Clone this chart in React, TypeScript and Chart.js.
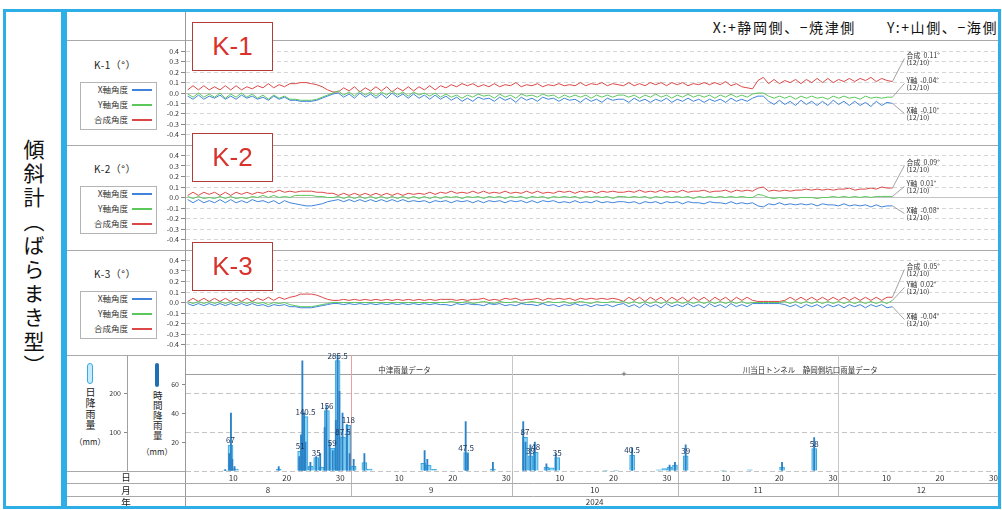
import React, { useEffect, useRef } from "react";
import { Chart, registerables } from "chart.js";

Chart.register(...registerables);

// ---------------- calendar / axis ----------------
const YEAR_LABEL = "2024";
const MONTHS = [8, 9, 10, 11, 12];
const MONTH_LABELS = ["8", "9", "10", "11", "12"];
const MONTH_START_DAY = [0, 31, 61, 92, 122, 153];
const X_MAX_DAY = 151.5;
const DAY_TICK_DATES = ["08/10", "08/20", "08/30", "09/10", "09/20", "09/30", "10/10", "10/20", "10/30", "11/10", "11/20", "11/30", "12/10", "12/20", "12/30"];
const ROW_LABELS = ["日", "月", "年"];

// ---------------- tilt meters (1/100 degree), daily 08/01 .. 12/10 ----------------
const K1_X = [
  -3, -6, -2, -6, -3, -5, -2, -6, -3, -6, -2, -5, -3, -6, -4, -7, -3, -6, -4, -7,
  -7, -8, -8, -8, -7, -5, -3, -1,
  0, -4, -1, -5, 0, -4, -1, -5, -1, -5, 0, -4, -1, -5, -1, -5, -2, -6, -2, -6,
  -3, -7, -4, -8, -5, -8, -4, -6, -5, -8, -4, -7, -5, -9, -4, -7, -5, -8, -4, -6, -5, -8, -5, -7, -6, -9, -5, -8, -6, -9, -5, -7, -6,
  -6, -9, -5, -8, -6, -9, -6, -8, -5, -9, -6, -8, -5, -8, -6, -9, -6, -8, -6, -9, -5, -8, -6, -8, -5,
  -3, -3, -8, -11, -7, -11, -8, -12, -7, -11, -8, -12, -8, -12, -7, -11, -8, -12, -8, -12, -9, -13, -8, -12, -9, -10,
];
const K1_Y = [
  -1, -4, 0, -4, -1, -4, 0, -5, -1, -4, 0, -4, -1, -5, -2, -6, -2, -5, -3, -6,
  -6, -7, -7, -7, -6, -4, -2, 0,
  2, -2, 1, -3, 2, -2, 1, -3, 1, -2, 2, -2, 1, -3, 1, -2, 0, -3, 0, -4,
  -1, -4, -2, -5, -2, -4, -1, -3, -2, -5, -1, -4, -2, -5, -1, -3, -2, -4, -1, -3, -2, -5, -2, -4, -2, -4, -2, -5, -2, -4, -2, -4, -2,
  -2, -4, -2, -5, -2, -4, -1, -4, -2, -5, -2, -4, -1, -4, -2, -4, -2, -5, -2, -4, -1, -4, -2, -4, -1,
  0, 0, -3, -5, -3, -5, -3, -6, -3, -5, -3, -5, -4, -6, -3, -5, -3, -5, -4, -6, -3, -5, -4, -5, -4, -4,
];
const K1_R = [
  3, 7, 3, 7, 3, 6, 3, 7, 3, 7, 3, 6, 4, 7, 5, 9, 5, 8, 6, 9,
  9, 10, 10, 9, 8, 6, 3, 1,
  1, 5, 2, 6, 1, 5, 2, 6, 2, 6, 1, 5, 2, 6, 2, 6, 3, 7, 3, 7,
  5, 8, 6, 9, 7, 9, 6, 8, 6, 9, 6, 8, 7, 10, 6, 8, 7, 9, 6, 8, 7, 9, 7, 8, 7, 10, 7, 9, 8, 10, 7, 9, 8,
  7, 10, 7, 9, 7, 10, 8, 10, 7, 10, 8, 10, 7, 9, 8, 10, 8, 10, 8, 11, 7, 9, 6, 5, 4,
  12, 15, 9, 13, 9, 12, 10, 13, 9, 13, 10, 14, 10, 14, 10, 13, 11, 14, 11, 14, 12, 15, 11, 14, 12, 11,
];

const K2_X = [
  -2, -5, -2, -5, -3, -5, -2, -5, -2, -5, -3, -5, -2, -4, -3, -5, -3, -6, -3, -5,
  -6, -7, -8, -8, -7, -6, -4, -3,
  -2, -4, -2, -4, -2, -4, -2, -4, -2, -4, -2, -4, -2, -4, -3, -4, -3, -5, -3, -4,
  -3, -5, -3, -4, -3, -5, -3, -5, -3, -4, -3, -5, -3, -4, -3, -5, -3, -5, -3, -4, -3, -5, -4, -5, -3, -5, -4, -5, -3, -5, -4, -5, -4,
  -4, -5, -4, -6, -4, -5, -4, -6, -4, -5, -4, -6, -4, -5, -5, -6, -4, -5, -5, -6, -4, -6, -5, -6, -5,
  -8, -9, -6, -7, -5, -7, -6, -7, -6, -7, -6, -8, -6, -7, -7, -8, -6, -8, -7, -8, -7, -9, -7, -9, -8, -8,
];
const K2_Y = [
  1, -1, 1, -1, 0, -1, 1, -1, 1, -1, 0, -1, 1, 0, 2, 0, 2, 0, 1, 0,
  2, 2, 2, 2, 1, 1, 0, 0,
  1, -1, 1, -1, 1, -1, 1, -1, 1, -1, 1, -1, 1, -1, 1, -1, 1, -1, 1, -1,
  1, 0, 1, -1, 1, 0, 1, -1, 1, 0, 1, -1, 1, 0, 1, -1, 1, 0, 1, -1, 1, 0, 1, 0, 1, -1, 1, 0, 1, 0, 1, -1, 1,
  1, 0, 1, 0, 1, -1, 1, 0, 1, 0, 1, 0, 1, -1, 1, 0, 1, 0, 1, 0, 1, 0, 1, 0, 0,
  3, 2, 0, -1, 0, -1, 0, -1, 0, 0, 0, -1, 0, 0, 1, 0, 1, 0, 1, 0, 1, 0, 1, 1, 1, 1,
];
const K2_R = [
  2, 5, 2, 5, 3, 5, 2, 5, 2, 5, 3, 5, 3, 5, 4, 6, 5, 7, 5, 6,
  5, 6, 6, 6, 5, 5, 4, 4,
  2, 4, 2, 4, 2, 4, 2, 4, 2, 4, 2, 4, 2, 4, 3, 4, 3, 5, 3, 5,
  4, 6, 4, 5, 4, 6, 4, 6, 4, 5, 4, 6, 4, 5, 4, 6, 4, 6, 4, 5, 4, 6, 5, 6, 4, 6, 5, 6, 4, 6, 5, 6, 5,
  5, 6, 5, 7, 5, 6, 5, 7, 5, 6, 5, 7, 5, 6, 6, 7, 5, 6, 6, 7, 5, 7, 6, 7, 6,
  9, 10, 6, 7, 6, 7, 6, 7, 7, 8, 7, 8, 7, 8, 7, 8, 8, 9, 7, 8, 8, 9, 8, 10, 9, 9,
];

const K3_X = [
  -1, -3, -1, -3, -1, -3, -1, -3, -1, -3, -1, -3, -1, -3, -2, -4, -2, -3, -2, -4,
  -4, -5, -5, -5, -4, -3, -2, -1,
  -1, -2, -1, -2, -1, -2, -1, -2, -1, -2, -1, -2, -1, -2, -1, -2, -1, -2, -1, -2,
  -2, -3, -1, -2, -1, -2, -2, -3, -1, -2, -1, -3, -2, -3, -1, -2, -2, -3, -1, -3, -2, -4, -2, -3, -1, -3, -2, -4, -2, -3, -2, -4, -2,
  -1, -4, -2, -5, -1, -4, -2, -5, -1, -4, -2, -4, -1, -4, -2, -5, -1, -4, -2, -5, -1, -4, -2, -4, -1,
  -1, -1, -1, -1, -1, -2, -4, -2, -5, -2, -4, -2, -5, -2, -4, -2, -5, -2, -4, -2, -5, -2, -4, -2, -5, -4,
];
const K3_Y = [
  1, -1, 1, -1, 1, -1, 1, -1, 1, -1, 1, -1, 1, -1, 0, -2, 0, -1, 0, -2,
  -3, -4, -4, -4, -3, -2, -1, 0,
  0, 0, 0, 0, 0, 0, 0, 0, 0, 0, 0, 0, 0, 0, 0, 0, 0, 0, 0, 0,
  0, 1, 0, 0, 1, -1, 0, 1, 0, -1, 1, 0, 0, 1, -1, 0, 1, 0, -1, 1, 0, 0, 1, -1, 0, 1, 0, -1, 1, 0, 0, 1, 0,
  1, -1, 1, -1, 1, -1, 1, -1, 1, -1, 1, -1, 1, -1, 1, -1, 1, -1, 1, -1, 1, -1, 1, -1, 0,
  0, 0, 0, 0, 0, 1, -1, 1, -1, 1, -1, 1, -1, 1, -1, 1, -1, 1, -1, 1, -1, 1, -1, 1, -1, 2,
];
const K3_R = [
  1, 4, 1, 4, 1, 4, 1, 4, 1, 4, 1, 4, 1, 4, 2, 5, 2, 5, 3, 5,
  6, 8, 8, 8, 7, 5, 3, 2,
  2, 3, 2, 3, 2, 3, 2, 3, 2, 3, 2, 3, 2, 3, 2, 3, 2, 3, 2, 3,
  3, 3, 2, 3, 2, 3, 3, 4, 2, 3, 2, 4, 3, 4, 2, 3, 3, 4, 2, 4, 3, 4, 3, 4, 2, 4, 3, 4, 3, 4, 3, 4, 3,
  1, 5, 2, 5, 1, 5, 2, 5, 1, 5, 2, 5, 1, 5, 2, 5, 1, 5, 2, 5, 1, 5, 2, 5, 2,
  1, 1, 1, 1, 1, 2, 5, 2, 5, 2, 5, 2, 5, 2, 5, 2, 5, 2, 5, 2, 5, 2, 5, 2, 5, 5,
];

const SERIES_NAMES = ["X軸角度", "Y軸角度", "合成角度"];
const END_DATE_LABEL = "(12/10)";
const K1_END = ["合成  0.11°", "Y軸  -0.04°", "X軸  -0.10°"];
const K2_END = ["合成  0.09°", "Y軸  0.01°", "X軸  -0.08°"];
const K3_END = ["合成  0.05°", "Y軸  0.02°", "X軸  -0.04°"];

// ---------------- rainfall ----------------
const RAIN_DAILY_DATES = [
  "08/08", "08/09", "08/10", "08/18", "08/22", "08/23", "08/24", "08/25", "08/26", "08/27", "08/28", "08/29", "08/30", "08/31",
  "09/01", "09/03", "09/04", "09/14", "09/15", "09/16", "09/22", "09/27",
  "10/03", "10/04", "10/05", "10/07", "10/08", "10/09", "10/18", "10/20", "10/23", "10/28", "10/29", "10/30", "10/31",
  "11/02", "11/09", "11/14", "11/20", "11/26",
];
const RAIN_DAILY_MM = [
  2, 67, 5, 4, 51, 140.5, 12, 35, 10, 156, 59, 285.5, 87.5, 118,
  12, 22, 5, 20, 15, 4, 47.5, 5,
  87, 39, 48, 10, 8, 35, 2, 2, 40.5, 3, 6, 10, 15,
  39, 1, 3, 10, 58,
];
const RAIN_HOURLY_TIMES = [
  "08/08 12", "08/09 06", "08/09 14", "08/09 20", "08/10 06", "08/18 12",
  "08/22 08", "08/22 16", "08/22 22", "08/23 06", "08/23 12", "08/24 10", "08/25 12", "08/26 06",
  "08/27 02", "08/27 10", "08/28 00", "08/28 14", "08/29 04", "08/29 12", "08/29 20", "08/30 10", "08/31 06", "08/31 18",
  "09/01 12", "09/03 12", "09/14 18", "09/15 06", "09/22 10", "09/22 18", "09/27 12",
  "10/03 04", "10/03 14", "10/04 12", "10/05 08", "10/07 12", "10/09 06", "10/23 12", "10/30 12", "10/31 12",
  "11/02 12", "11/20 12", "11/26 12",
];
const RAIN_HOURLY_MM = [
  1, 12, 40, 8, 3, 3,
  10, 25, 76, 40, 20, 6, 10, 12,
  30, 45, 20, 14, 35, 82, 55, 40, 32, 12,
  8, 12, 14, 8, 34, 12, 6,
  34, 20, 18, 20, 5, 12, 16, 4, 6,
  18, 6, 23,
];
const RAIN_LABEL_MIN = 35;
const RAIN_SOURCE_SPLIT = "10/22";
const RAIN_SOURCE_LABELS = ["中津雨量データ", "川当日トンネル　静岡側坑口雨量データ"];

// ---------------- styles ----------------
const JP = '"Noto Sans CJK JP", "Noto Sans", sans-serif';
const FRAME = "#2eaee6";
const SEP = "#a9a9a9";
const COLOR_X = "#3f84d8";
const COLOR_Y = "#5cc85c";
const COLOR_R = "#dc4848";
const PAD = 8;

function dayOf(s: string, defHour: number): number {
  const [md, hh] = s.split(" ");
  const [m, d] = md.split("/").map(Number);
  const h = hh !== undefined ? Number(hh) : defHour;
  return MONTH_START_DAY[MONTHS.indexOf(m)] + d - 1 + h / 24;
}

type TiltProps = { top: number; height: number; xs: number[]; ys: number[]; rs: number[]; ends: string[]; endOffsets: number[] };

function TiltChart(p: TiltProps) {
  const ref = useRef<HTMLCanvasElement>(null);
  useEffect(() => {
    const pts = (a: number[]) => a.map((v, i) => ({ x: i + 0.5, y: v / 100 }));
    const isEdge = (v: number) => Math.abs(Math.abs(v) - 0.5) < 1e-6;
    const endPlugin = {
      id: "endLabels",
      afterDatasetsDraw(chart: any) {
        const { ctx, chartArea } = chart;
        ctx.save();
        [2, 1, 0].forEach((dsIndex, k) => {
          const meta = chart.getDatasetMeta(dsIndex);
          const last = meta.data[meta.data.length - 1];
          const lx = last.x + 14;
          const ly = chartArea.top + p.endOffsets[k];
          ctx.strokeStyle = "#8c8c8c";
          ctx.lineWidth = 0.8;
          ctx.beginPath();
          ctx.moveTo(last.x, last.y);
          ctx.lineTo(lx - 2, ly + 3.5);
          ctx.stroke();
          ctx.fillStyle = "#333";
          ctx.font = `7px ${JP}`;
          ctx.textBaseline = "middle";
          ctx.textAlign = "left";
          ctx.fillText(p.ends[k], lx, ly);
          ctx.fillText(END_DATE_LABEL, lx, ly + 7);
        });
        ctx.restore();
      },
    };
    const line = (label: string, data: number[], color: string) => ({
      label, data: pts(data), borderColor: color, borderWidth: 1, pointRadius: 0, tension: 0, fill: false,
    });
    const chart = new Chart(ref.current!, {
      type: "line",
      data: {
        datasets: [line(SERIES_NAMES[0], p.xs, COLOR_X), line(SERIES_NAMES[1], p.ys, COLOR_Y), line(SERIES_NAMES[2], p.rs, COLOR_R)],
      },
      options: {
        animation: false,
        responsive: false,
        maintainAspectRatio: false,
        layout: { padding: { top: PAD, bottom: PAD, left: 0, right: 0 } },
        plugins: { legend: { display: false }, tooltip: { enabled: false } },
        scales: {
          x: { type: "linear", min: 0, max: X_MAX_DAY, display: false },
          y: {
            min: -0.5,
            max: 0.5,
            ticks: {
              stepSize: 0.1,
              autoSkip: false,
              padding: 2,
              color: "#333",
              font: { size: 7, family: JP },
              callback: (v: any) => (isEdge(v) ? "" : (Math.round(v * 10) / 10).toFixed(1)),
            },
            grid: {
              color: (c: any) => (c.tick && isEdge(c.tick.value) ? "transparent" : Math.abs(c.tick ? c.tick.value : 1) < 1e-6 ? "#c4c4c4" : "#d6d6d6"),
              tickLength: 4,
              tickColor: (c: any) => (c.tick && isEdge(c.tick.value) ? "transparent" : "#888"),
            },
            border: {
              display: true,
              color: "#999",
              dash: (c: any) => (c.tick && Math.abs(c.tick.value) < 1e-6 ? [] : [4, 3]),
            },
            afterFit: (s: any) => {
              s.width = 118;
            },
          },
        },
      } as any,
      plugins: [endPlugin],
    });
    return () => chart.destroy();
  }, []);
  return (
    <canvas
      ref={ref}
      width={933}
      height={p.height + 2 * PAD}
      style={{ position: "absolute", left: 67, top: p.top - PAD, width: 933, height: p.height + 2 * PAD }}
    />
  );
}

function RainChart() {
  const ref = useRef<HTMLCanvasElement>(null);
  useEffect(() => {
    const daily = RAIN_DAILY_DATES.map((d, i) => ({ x: dayOf(d, 12), y: RAIN_DAILY_MM[i] }));
    const hourly = RAIN_HOURLY_TIMES.map((d, i) => ({ x: dayOf(d, 12), y: RAIN_HOURLY_MM[i] }));
    const tickDays = DAY_TICK_DATES.map((d) => dayOf(d, 0));
    const split = dayOf(RAIN_SOURCE_SPLIT, 0);
    const decor = {
      id: "rainDecor",
      beforeDatasetsDraw(chart: any) {
        const { ctx, chartArea: ca, scales } = chart;
        const xs = scales.x;
        ctx.save();
        ctx.lineWidth = 1;
        MONTH_START_DAY.slice(1, 5).forEach((d, i) => {
          const px = Math.round(xs.getPixelForValue(d)) + 0.5;
          ctx.strokeStyle = i === 0 ? "#eaa0a0" : "#c8c8c8";
          ctx.beginPath();
          ctx.moveTo(px, ca.top);
          ctx.lineTo(px, ca.bottom);
          ctx.stroke();
          ctx.strokeStyle = "#b8b8b8";
          ctx.beginPath();
          ctx.moveTo(px, ca.bottom);
          ctx.lineTo(px, ca.bottom + 25);
          ctx.stroke();
        });
        ctx.strokeStyle = SEP;
        [ca.bottom + 12, ca.bottom + 25].forEach((y) => {
          ctx.beginPath();
          ctx.moveTo(0, Math.round(y) + 0.5);
          ctx.lineTo(chart.width, Math.round(y) + 0.5);
          ctx.stroke();
        });
        ctx.beginPath();
        ctx.moveTo(0, Math.round(ca.bottom) + 0.5);
        ctx.lineTo(ca.left, Math.round(ca.bottom) + 0.5);
        ctx.stroke();
        // source labels
        ctx.fillStyle = "#333";
        ctx.font = `7.5px ${JP}`;
        ctx.textAlign = "center";
        ctx.textBaseline = "middle";
        const c1 = xs.getPixelForValue(split / 2);
        const c2 = xs.getPixelForValue((split + X_MAX_DAY) / 2);
        ctx.fillText(RAIN_SOURCE_LABELS[0], c1, ca.top + 15);
        ctx.fillText(RAIN_SOURCE_LABELS[1], c2, ca.top + 15);
        ctx.font = `9px ${JP}`;
        ctx.fillStyle = "#555";
        ctx.fillText("+", xs.getPixelForValue(split), ca.top + 19);
        ctx.restore();
      },
      afterDatasetsDraw(chart: any) {
        const { ctx, chartArea: ca, scales } = chart;
        const xs = scales.x;
        ctx.save();
        const meta = chart.getDatasetMeta(0);
        ctx.font = `8px ${JP}`;
        ctx.fillStyle = "#1c2f52";
        ctx.textAlign = "center";
        ctx.textBaseline = "bottom";
        meta.data.forEach((el: any, i: number) => {
          const v = RAIN_DAILY_MM[i];
          if (v >= RAIN_LABEL_MIN) ctx.fillText(String(v), el.x, el.y - 1);
        });
        ctx.fillStyle = "#222";
        ctx.textBaseline = "middle";
        ctx.font = `9.5px ${JP}`;
        const rx = ca.left / 2;
        ctx.fillText(ROW_LABELS[0], rx, ca.bottom + 6);
        ctx.fillText(ROW_LABELS[1], rx, ca.bottom + 19);
        ctx.fillText(ROW_LABELS[2], rx, ca.bottom + 31);
        ctx.font = `8px ${JP}`;
        ctx.fillStyle = "#333";
        MONTH_LABELS.forEach((m, i) => {
          const cx = xs.getPixelForValue((MONTH_START_DAY[i] + MONTH_START_DAY[i + 1]) / 2);
          ctx.fillText(m, cx, ca.bottom + 19);
        });
        ctx.fillText(YEAR_LABEL, xs.getPixelForValue(MONTH_START_DAY[5] / 2), ca.bottom + 31);
        ctx.restore();
      },
    };
    const dailyGrid = (v: number) => (v === 250 ? "#9e9e9e" : v === 0 || v === 100 || v === 200 ? "#c4c4c4" : "transparent");
    const chart = new Chart(ref.current!, {
      type: "bar",
      data: {
        datasets: [
          {
            label: "日降雨量",
            data: daily,
            yAxisID: "yDaily",
            backgroundColor: "rgba(135,213,247,0.9)",
            borderColor: "#3aa6de",
            borderWidth: 1,
            barThickness: 5,
            grouped: false,
            order: 1,
          },
          {
            label: "時間降雨量",
            data: hourly,
            yAxisID: "yHourly",
            backgroundColor: "#2b82c6",
            barThickness: 1.2,
            grouped: false,
            order: 0,
          },
        ],
      },
      options: {
        animation: false,
        responsive: false,
        maintainAspectRatio: false,
        layout: { padding: { top: 10, left: 0, right: 0, bottom: 0 } },
        plugins: { legend: { display: false }, tooltip: { enabled: false } },
        scales: {
          x: {
            type: "linear",
            min: 0,
            max: X_MAX_DAY,
            offset: false,
            grid: { display: false, drawTicks: false, offset: false },
            border: { display: false },
            afterBuildTicks: (s: any) => {
              s.ticks = tickDays.map((v) => ({ value: v }));
            },
            ticks: {
              autoSkip: false,
              maxRotation: 0,
              padding: 2,
              color: "#333",
              font: { size: 8, family: JP },
              callback: (_v: any, i: number) => String(Number(DAY_TICK_DATES[i].split("/")[1])),
            },
            afterFit: (s: any) => {
              s.height = 37;
            },
          },
          yHourly: {
            position: "left",
            weight: 0,
            min: 0,
            max: 80,
            ticks: { stepSize: 20, autoSkip: false, padding: 3, color: "#333", font: { size: 7, family: JP }, callback: (v: any) => (v === 0 || v === 80 ? "" : String(v)) },
            grid: { drawOnChartArea: false, tickLength: 3, tickColor: (c: any) => (c.tick && (c.tick.value === 0 || c.tick.value === 80) ? "transparent" : "#888") },
            border: { display: true, color: "#999" },
            afterFit: (s: any) => {
              s.width = 58;
            },
          },
          yDaily: {
            position: "left",
            weight: 1,
            min: 0,
            max: 300,
            ticks: { stepSize: 50, autoSkip: false, padding: 3, color: "#333", font: { size: 7, family: JP }, callback: (v: any) => (v === 100 || v === 200 ? String(v) : "") },
            grid: {
              color: (c: any) => dailyGrid(c.tick ? c.tick.value : -1),
              tickLength: 3,
              tickColor: (c: any) => (c.tick && (c.tick.value === 100 || c.tick.value === 200) ? "#888" : "transparent"),
            },
            border: { display: true, color: "#a0a0a0", dash: (c: any) => (c.tick && c.tick.value === 250 ? [] : [5, 3]) },
            afterFit: (s: any) => {
              s.width = 60;
            },
          },
        },
      } as any,
      plugins: [decor],
    });
    return () => chart.destroy();
  }, []);
  return <canvas ref={ref} width={933} height={163} style={{ position: "absolute", left: 67, top: 345, width: 933, height: 163 }} />;
}

const PANELS = [
  { name: "K-1", top: 41, height: 104, boxTop: 22, xs: K1_X, ys: K1_Y, rs: K1_R, ends: K1_END, endOffsets: [14, 39, 69] },
  { name: "K-2", top: 145, height: 105, boxTop: 133, xs: K2_X, ys: K2_Y, rs: K2_R, ends: K2_END, endOffsets: [17, 38, 65] },
  { name: "K-3", top: 250, height: 105, boxTop: 242, xs: K3_X, ys: K3_Y, rs: K3_R, ends: K3_END, endOffsets: [16, 34, 66] },
];

const H = ({ y, x1, x2, c = SEP }: { y: number; x1: number; x2: number; c?: string }) => (
  <div style={{ position: "absolute", left: x1, top: y, width: x2 - x1, height: 0, borderTop: `1px solid ${c}` }} />
);
const V = ({ x, y1, y2, c = SEP }: { x: number; y1: number; y2: number; c?: string }) => (
  <div style={{ position: "absolute", left: x, top: y1, width: 0, height: y2 - y1, borderLeft: `1px solid ${c}` }} />
);

export default function App() {
  return (
    <div style={{ position: "fixed", left: 0, top: 0, width: 1002, height: 510, background: "#fff", overflow: "hidden", fontFamily: JP, color: "#222" }}>
      {/* left title panel */}
      <div
        style={{
          position: "absolute", left: 3, top: 9, width: 61, height: 500, boxSizing: "border-box",
          border: `3px solid ${FRAME}`, display: "flex", alignItems: "center", justifyContent: "center",
        }}
      >
        <div style={{ writingMode: "vertical-rl", fontSize: 21, letterSpacing: 3, color: "#111", lineHeight: 1 }}>傾斜計（ばらまき型）</div>
      </div>

      {/* header */}
      <div style={{ position: "absolute", right: 4, top: 17, fontSize: 14, letterSpacing: 1.6, whiteSpace: "pre", color: "#111", lineHeight: "20px" }}>
        X:+静岡側、−焼津側　　Y:+山側、−海側
      </div>

      {/* grid separators */}
      <H y={40} x1={67} x2={998} />
      <H y={145} x1={67} x2={998} />
      <H y={250} x1={67} x2={998} />
      <H y={355} x1={67} x2={998} />
      <V x={185} y1={12} y2={506} c="#999" />

      {/* panel labels + legends */}
      {PANELS.map((p) => (
        <React.Fragment key={p.name}>
          <div style={{ position: "absolute", left: 75, width: 80, top: p.top + 17, textAlign: "center", fontSize: 10, letterSpacing: 0.5, lineHeight: "14px", color: "#222" }}>
            {p.name}（°）
          </div>
          <div style={{ position: "absolute", left: 80, top: p.top + 41, width: 77, height: 48, boxSizing: "border-box", border: "1px solid #b4b4b4" }} />
          {SERIES_NAMES.map((s, i) => (
            <React.Fragment key={s}>
              <div style={{ position: "absolute", left: 82, width: 46, top: p.top + 42 + i * 15, textAlign: "right", fontSize: 8.5, lineHeight: "12px", color: "#333" }}>{s}</div>
              <div style={{ position: "absolute", left: 132, width: 20, top: p.top + 48 + i * 15, height: 2, background: [COLOR_X, COLOR_Y, COLOR_R][i] }} />
            </React.Fragment>
          ))}
        </React.Fragment>
      ))}

      {/* rain left labels */}
      <V x={127} y1={355} y2={471} c="#999" />
      <div style={{ position: "absolute", left: 87, top: 363, width: 6, height: 21, boxSizing: "border-box", background: "#c6ecff", border: "1px solid #3fa9de", borderRadius: 3 }} />
      <div style={{ position: "absolute", left: 67, width: 46, top: 387, display: "flex", justifyContent: "center" }}>
        <div style={{ writingMode: "vertical-rl", fontSize: 10, letterSpacing: 1, lineHeight: 1, color: "#222" }}>日降雨量</div>
      </div>
      <div style={{ position: "absolute", left: 67, width: 46, top: 436, textAlign: "center", fontSize: 8, lineHeight: "12px", color: "#222" }}>（mm）</div>
      <div style={{ position: "absolute", left: 155, top: 363, width: 4, height: 24, background: "#1f6fb3", borderRadius: 2 }} />
      <div style={{ position: "absolute", left: 135, width: 44, top: 391, display: "flex", justifyContent: "center" }}>
        <div style={{ writingMode: "vertical-rl", fontSize: 9.5, letterSpacing: 0.5, lineHeight: 1, color: "#222" }}>時間降雨量</div>
      </div>
      <div style={{ position: "absolute", left: 135, width: 44, top: 446, textAlign: "center", fontSize: 8, lineHeight: "12px", color: "#222" }}>（mm）</div>

      {/* charts */}
      {PANELS.map((p) => (
        <TiltChart key={p.name} top={p.top} height={p.height} xs={p.xs} ys={p.ys} rs={p.rs} ends={p.ends} endOffsets={p.endOffsets} />
      ))}
      <RainChart />

      {/* red K boxes */}
      {PANELS.map((p) => (
        <div
          key={"box" + p.name}
          style={{
            position: "absolute", left: 192, top: p.boxTop, width: 81, height: 49, boxSizing: "border-box",
            border: "1.5px solid #b23b3b", background: "#fff", color: "#d8322b",
            fontSize: 26, fontFamily: '"Liberation Sans", Arial, sans-serif',
            display: "flex", alignItems: "center", justifyContent: "center",
          }}
        >
          {p.name}
        </div>
      ))}

      {/* main frame */}
      <div style={{ position: "absolute", left: 64, top: 9, width: 937, height: 500, boxSizing: "border-box", border: `3px solid ${FRAME}`, pointerEvents: "none" }} />
    </div>
  );
}
